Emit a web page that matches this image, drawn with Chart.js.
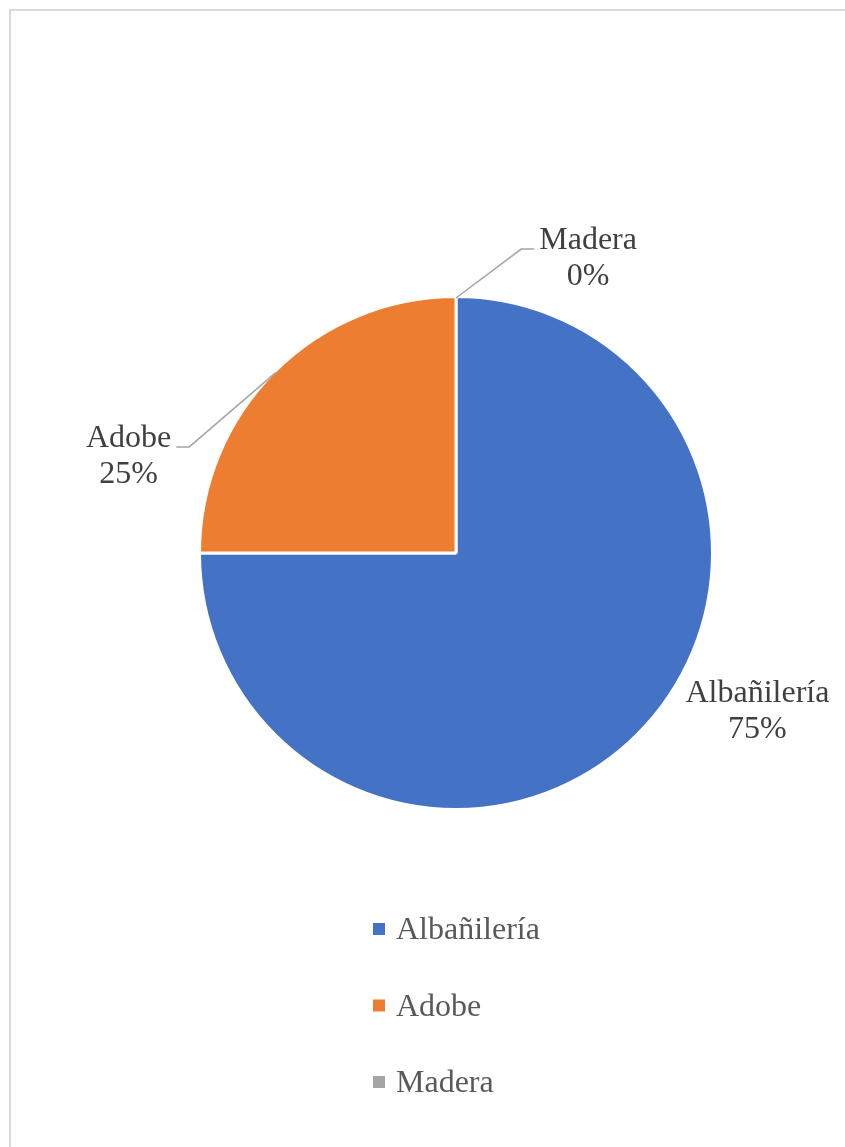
<!DOCTYPE html>
<html>
<head>
<meta charset="utf-8">
<script src="https://cdn.jsdelivr.net/npm/chart.js@4/dist/chart.umd.min.js"></script>
<style>
    body { margin: 0; background: #fff; }
    #frame {
        position: absolute; left: 9px; top: 9px; width: 900px; height: 1200px;
        border-left: 2px solid #d9d9d9; border-top: 2px solid #d9d9d9;
    }
    #pieChart { position: absolute; left: 0; top: 0; }
</style>
</head>
<body>
<div id="frame"></div>
<canvas id="pieChart" width="845" height="1147"></canvas>
<script>
// Data
const categories = ['Albañilería', 'Adobe', 'Madera'];
const values = [75, 25, 0];
const colors = ['#4472C4', '#ED7D31', '#A5A5A5'];

// Where each data label sits, in units of the pie radius from the centre
// (x of text centre, y of first baseline), and whether it gets a leader line
var labelPlacement = [
    { dx: 1.182, dy: 0.584, leader: false },
    { dx: -1.284, dy: -0.416, leader: true },
    { dx: 0.518, dy: -1.192, leader: true }
];

const FONT = '32px "Liberation Serif", "Times New Roman", serif';

// Draws data labels with leader lines and a vertical legend under the pie
const pieExtras = {
    id: 'pieExtras',
    afterDraw: function(chart) {
        var ctx = chart.ctx;
        var meta = chart.getDatasetMeta(0);
        var data = chart.data.datasets[0].data;
        var total = data.reduce(function(a, b) { return a + b; }, 0);

        ctx.save();
        ctx.font = FONT;
        ctx.textBaseline = 'alphabetic';
        ctx.textAlign = 'center';

        meta.data.forEach(function(arc, i) {
            var p = arc.getProps(['x', 'y', 'startAngle', 'endAngle', 'outerRadius'], true);
            var r = p.outerRadius - 1.5;
            var cx = p.x + labelPlacement[i].dx * r;
            var by = p.y + labelPlacement[i].dy * r;
            var pct = Math.round(data[i] / total * 100) + '%';
            var name = chart.data.labels[i];

            if (labelPlacement[i].leader) {
                var mid = (p.startAngle + p.endAngle) / 2;
                var sx = p.x + Math.cos(mid) * r;
                var sy = p.y + Math.sin(mid) * r;
                var half = ctx.measureText(name).width / 2;
                var ex, kx;
                if (cx < p.x) {
                    ex = cx + half + 5;
                    kx = ex + 13;
                } else {
                    ex = cx - half - 5;
                    kx = ex - 13;
                }
                ctx.strokeStyle = '#A5A5A5';
                ctx.lineWidth = 1.5;
                ctx.beginPath();
                ctx.moveTo(sx, sy);
                ctx.lineTo(kx, by);
                ctx.lineTo(ex, by);
                ctx.stroke();
            }

            ctx.fillStyle = '#404040';
            ctx.fillText(name, cx, by);
            ctx.fillText(pct, cx, by + 36);
        });

        // legend
        ctx.textAlign = 'left';
        var lx = 373, ly = 923;
        chart.data.labels.forEach(function(label, i) {
            var y = ly + i * 76.5;
            ctx.fillStyle = colors[i];
            ctx.fillRect(lx, y, 12, 12);
            ctx.fillStyle = '#595959';
            ctx.fillText(label, lx + 23, y + 16);
        });
        ctx.restore();
    }
};

var ctx = document.getElementById('pieChart').getContext('2d');
var chart = new Chart(ctx, {
    type: 'pie',
    data: {
        labels: categories,
        datasets: [{
            data: values,
            backgroundColor: colors,
            borderColor: '#ffffff',
            borderWidth: 3
        }]
    },
    options: {
        responsive: false,
        animation: false,
        layout: {
            padding: { left: 198, right: 131, top: 295, bottom: 336 }
        },
        plugins: {
            legend: { display: false },
            tooltip: { enabled: false }
        }
    },
    plugins: [pieExtras]
});
</script>
</body>
</html>
